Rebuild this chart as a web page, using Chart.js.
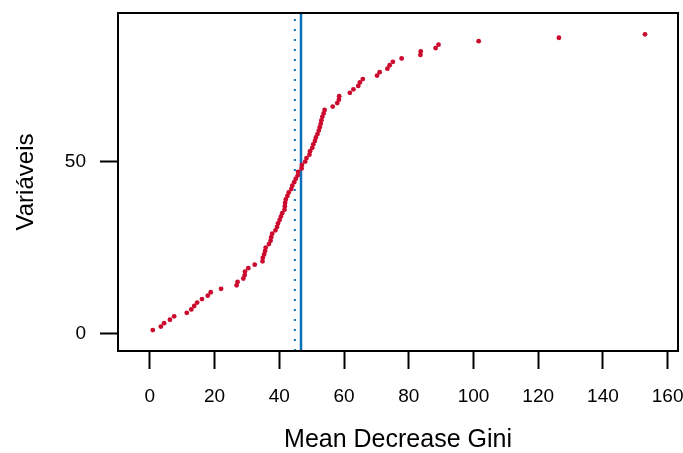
<!DOCTYPE html>
<html>
<head>
<meta charset="utf-8">
<script src="https://cdn.jsdelivr.net/npm/chart.js@4.4.1/dist/chart.umd.min.js"></script>
<style>
  html, body { margin: 0; padding: 0; background: #ffffff; }
  #wrap { width: 683px; height: 453px; position: relative; }
</style>
</head>
<body>
<div id="wrap"><canvas id="c" width="683" height="453"></canvas></div>
<script>
// Mean Decrease Gini per variable, sorted
const giniValues = [0.9, 3.4, 4.4, 6.2, 7.5, 11.4, 12.8, 13.7, 14.6, 16.1,
  17.9, 18.8, 22.0, 26.8, 27.1, 28.9, 29.3, 29.4, 30.4, 32.4,
  34.8, 34.9, 35.3, 35.6, 35.8, 36.8, 37.3, 37.5, 37.8, 38.8,
  39.3, 39.6, 40.1, 40.5, 40.9, 41.6, 41.7, 41.8, 42.0, 42.5,
  42.9, 43.7, 44.0, 44.6, 45.1, 45.7, 45.8, 46.9, 47.0, 48.0,
  48.4, 49.3, 49.5, 50.2, 50.5, 51.0, 51.3, 51.8, 52.2, 52.5,
  52.8, 53.0, 53.3, 53.7, 54.0, 56.5, 57.9, 58.4, 58.5, 61.8,
  62.9, 64.4, 64.9, 65.8, 70.2, 71.0, 73.4, 74.1, 75.1, 77.8,
  83.6, 83.7, 88.3, 89.2, 101.6, 126.4, 153.0];
// Variable rank (y position)
const variableRank = [1, 2, 3, 4, 5, 6, 7, 8, 9, 10,
  11, 12, 13, 14, 15, 16, 17, 18, 19, 20,
  21, 22, 23, 24, 25, 26, 27, 28, 29, 30,
  31, 32, 33, 34, 35, 36, 37, 38, 39, 40,
  41, 42, 43, 44, 45, 46, 47, 48, 49, 50,
  51, 52, 53, 54, 55, 56, 57, 58, 59, 60,
  61, 62, 63, 64, 65, 66, 67, 68, 69, 70,
  71, 72, 73, 74, 75, 76, 77, 78, 79, 80,
  81, 82, 83, 84, 85, 86, 87];
// Reference lines (x values)
const dottedLineX = 44.8;
const solidLineX = 46.7;
// Tick labels
const xTickValues = [0, 20, 40, 60, 80, 100, 120, 140, 160];
const yTickValues = [0, 50];
const xTitle = 'Mean Decrease Gini';
const yTitle = 'Variáveis';

const X_MIN = -9.85, X_MAX = 163.2;
const Y_MIN = -5.09, Y_MAX = 93.2;

const points = giniValues.map((v, i) => ({ x: v, y: variableRank[i] }));

const boxPlugin = {
  id: 'box',
  afterDatasetsDraw(chart) {
    const { ctx, chartArea: a } = chart;
    ctx.save();
    ctx.strokeStyle = '#000';
    ctx.lineWidth = 2;
    ctx.strokeRect(a.left, a.top, a.right - a.left, a.bottom - a.top);
    ctx.restore();
  }
};

const noPad = s => { s.paddingTop = 0; s.paddingBottom = 0; s.paddingLeft = 0; s.paddingRight = 0; };

const FONT = "'Liberation Sans', Arial, Helvetica, sans-serif";

new Chart(document.getElementById('c'), {
  type: 'scatter',
  data: {
    datasets: [
      {
        label: 'gini',
        data: points,
        pointRadius: 2.4,
        pointBorderWidth: 0,
        pointBackgroundColor: '#cc0a2d',
        backgroundColor: '#cc0a2d',
        borderColor: '#cc0a2d',
        showLine: false,
        order: 1
      },
      {
        label: 'dotted',
        type: 'line',
        data: [{ x: dottedLineX, y: Y_MIN }, { x: dottedLineX, y: Y_MAX }],
        borderColor: '#0a72ba',
        borderWidth: 2,
        borderDash: [2, 8],
        pointRadius: 0,
        fill: false,
        order: 2
      },
      {
        label: 'solid',
        type: 'line',
        data: [{ x: solidLineX, y: Y_MIN }, { x: solidLineX, y: Y_MAX }],
        borderColor: '#0a72ba',
        borderWidth: 2.5,
        pointRadius: 0,
        fill: false,
        order: 2
      }
    ]
  },
  options: {
    responsive: false,
    animation: false,
    devicePixelRatio: 1,
    layout: { padding: { top: 13, right: 5, left: 0, bottom: 0 } },
    plugins: { legend: { display: false }, tooltip: { enabled: false } },
    scales: {
      x: {
        type: 'linear',
        min: X_MIN,
        max: X_MAX,
        afterBuildTicks: s => { s.ticks = xTickValues.map(v => ({ value: v })); },
        afterFit: s => { s.height = 102; noPad(s); },
        border: { display: false },
        grid: { display: true, drawOnChartArea: false, drawTicks: true, tickLength: 18, tickWidth: 2, tickColor: '#000' },
        ticks: { color: '#000', font: { family: FONT, size: 19 }, padding: 16, maxRotation: 0, autoSkip: false },
        title: { display: true, text: xTitle, color: '#000', font: { family: FONT, size: 25, lineHeight: 1 }, padding: { top: 0, bottom: 0 } }
      },
      y: {
        type: 'linear',
        min: Y_MIN,
        max: Y_MAX,
        afterBuildTicks: s => { s.ticks = yTickValues.map(v => ({ value: v })); },
        afterFit: s => { s.width = 118; noPad(s); },
        border: { display: false },
        grid: { display: true, drawOnChartArea: false, drawTicks: true, tickLength: 18, tickWidth: 2, tickColor: '#000' },
        ticks: { color: '#000', font: { family: FONT, size: 19 }, padding: 14 },
        title: { display: true, text: yTitle, color: '#000', font: { family: FONT, size: 24, lineHeight: 1 }, padding: { top: 14, bottom: 0 } }
      }
    }
  },
  plugins: [boxPlugin]
});
</script>
</body>
</html>
